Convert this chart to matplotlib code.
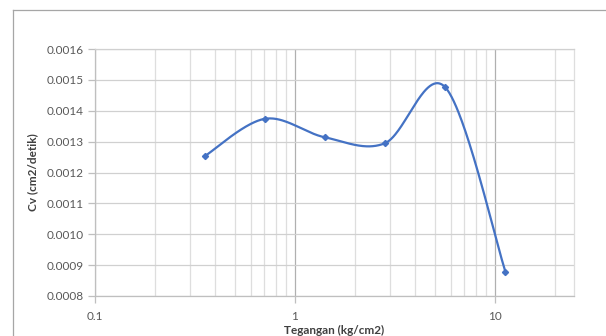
import numpy as np
import matplotlib
matplotlib.use('Agg')
import matplotlib.pyplot as plt
from matplotlib.lines import Line2D
from matplotlib.ticker import FixedLocator, FixedFormatter, LogLocator, NullFormatter

# Data konsolidasi: tegangan vs koefisien konsolidasi
tegangan = [0.354, 0.708, 1.41, 2.82, 5.64, 11.27]
cv = [0.001253, 0.001374, 0.001314, 0.001295, 0.001476, 0.000879]

y_ticks = [0.0008, 0.0009, 0.0010, 0.0011, 0.0012, 0.0013, 0.0014, 0.0015, 0.0016]
y_labels = ['0.0008', '0.0009', '0.0010', '0.0011', '0.0012', '0.0013', '0.0014', '0.0015', '0.0016']
x_ticks = [0.1, 1, 10]
x_labels = ['0.1', '1', '10']

warna_garis = '#4472C4'
warna_teks = '#595959'
warna_grid = '#D0D0D0'
warna_grid_minor = '#DEDEDE'

plt.rcParams['font.family'] = ['Lato', 'DejaVu Sans']


def kurva_halus(xs, ys, n=60):
    # Garis halus ala Excel (Bezier Catmull-Rom) pada ruang log10(x)
    u = np.log10(np.asarray(xs, dtype=float))
    v = np.asarray(ys, dtype=float)
    P = np.column_stack([u, v])
    P = np.vstack([P[0], P, P[-1]])
    t = np.linspace(0, 1, n)[:, None]
    seg = []
    for i in range(1, len(P) - 2):
        p0, p1 = P[i], P[i + 1]
        b1 = p0 + (P[i + 1] - P[i - 1]) / 6
        b2 = p1 - (P[i + 2] - P[i]) / 6
        c = ((1 - t) ** 3) * p0 + 3 * ((1 - t) ** 2) * t * b1 + 3 * (1 - t) * t ** 2 * b2 + t ** 3 * p1
        seg.append(c)
    c = np.vstack(seg)
    return 10 ** c[:, 0], c[:, 1]


fig = plt.figure(figsize=(6.06, 3.36), dpi=100)
W, H = 606, 336
ax = fig.add_axes([95 / W, (H - 296) / H, (574 - 95) / W, (296 - 49) / H])

ax.set_xscale('log')
ax.set_xlim(0.1, 10 ** (1 + 79 / 200))
ax.set_ylim(0.0008, 0.0016)

xs, ys = kurva_halus(tegangan, cv)
ax.plot(xs, ys, color=warna_garis, lw=1.6, zorder=3, solid_capstyle='round')
ax.plot(tegangan, cv, linestyle='none', marker='D', markersize=3.1,
        color=warna_garis, zorder=4)

# Sumbu dan grid
ax.yaxis.set_major_locator(FixedLocator(y_ticks))
ax.yaxis.set_major_formatter(FixedFormatter(y_labels))
ax.xaxis.set_major_locator(FixedLocator(x_ticks))
ax.xaxis.set_major_formatter(FixedFormatter(x_labels))
ax.xaxis.set_minor_locator(LogLocator(base=10, subs=np.arange(2, 10)))
ax.xaxis.set_minor_formatter(NullFormatter())

ax.grid(True, which='major', axis='y', color=warna_grid, lw=0.9)
ax.grid(True, which='major', axis='x', color='#B0B0B0', lw=0.9)
ax.grid(True, which='minor', axis='x', color=warna_grid_minor, lw=0.9)
ax.set_axisbelow(True)

ax.tick_params(axis='both', which='major', length=5, width=0.9, color='#BFBFBF',
               labelsize=8.5, labelcolor=warna_teks, pad=3)
ax.tick_params(axis='x', which='major', pad=6)
ax.tick_params(axis='x', which='minor', length=0)

for s in ['left', 'bottom']:
    ax.spines[s].set_color('#BFBFBF')
    ax.spines[s].set_linewidth(0.9)
ax.spines['top'].set_color(warna_grid)
ax.spines['top'].set_linewidth(0.9)
ax.spines['right'].set_color(warna_grid_minor)
ax.spines['right'].set_linewidth(0.9)

ax.set_ylabel('Cv (cm2/detik)', fontsize=8.5, fontweight='bold', color='#404040', labelpad=6)
ax.set_xlabel('Tegangan (kg/cm2)', fontsize=8.5, fontweight='bold', color='#404040', labelpad=2)

# Bingkai area grafik
fig.add_artist(Line2D([13 / W, 1], [1 - 9.5 / H, 1 - 9.5 / H], color='#A6A6A6', lw=0.9))
fig.add_artist(Line2D([13 / W, 13 / W], [0, 1 - 9.5 / H], color='#A6A6A6', lw=0.9))

fig.savefig('out.png', dpi=100, facecolor='white')
